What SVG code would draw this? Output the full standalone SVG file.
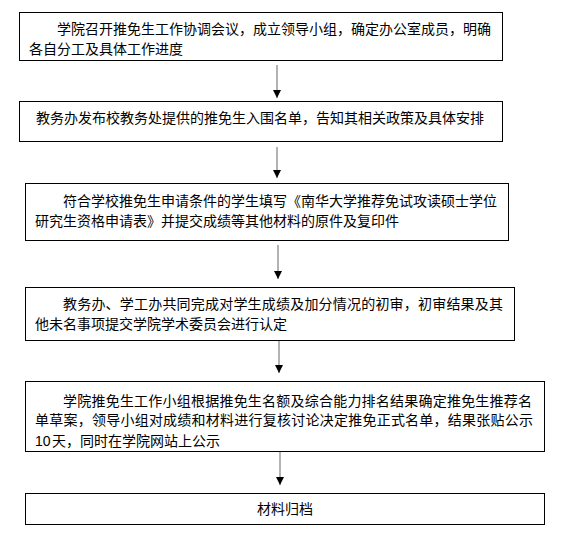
<svg xmlns="http://www.w3.org/2000/svg" width="564" height="546" viewBox="0 0 564 546">
<style>
.box{fill:#fff;stroke:#000;stroke-width:1}
.t{font-family:"Noto Sans CJK SC","Liberation Sans",sans-serif;font-size:14px;fill:#000}
.n{font-family:"Liberation Sans",sans-serif;font-size:14px;fill:#000}
.c{stroke:#808080;stroke-width:1.2;fill:none;marker-end:url(#ah)}
</style>
<defs>
<marker id="ah" markerUnits="userSpaceOnUse" markerWidth="8" markerHeight="8" refX="8" refY="4" orient="auto" viewBox="0 0 8 8">
<path d="M0,0 L8,4 L0,8 Z" fill="#000"/>
</marker>
</defs>
<rect width="564" height="546" fill="#fff"/>
<g id="n1">
<rect class="box" x="19.5" y="12.5" width="483" height="48"/>
<text class="t" x="57" y="33.5" textLength="434" lengthAdjust="spacing">学院召开推免生工作协调会议，成立领导小组，确定办公室成员，明确</text>
<text class="t" x="29" y="53.5">各自分工及具体工作进度</text>
</g>
<g id="n2">
<rect class="box" x="19.5" y="101.5" width="483" height="40"/>
<text class="t" x="36" y="122.5" textLength="448" lengthAdjust="spacing">教务办发布校教务处提供的推免生入围名单，告知其相关政策及具体安排</text>
</g>
<g id="n3">
<rect class="box" x="25.5" y="183.5" width="483" height="57"/>
<text class="t" x="63" y="205.5" textLength="434" lengthAdjust="spacing">符合学校推免生申请条件的学生填写《南华大学推荐免试攻读硕士学位</text>
<text class="t" x="35" y="225.5">研究生资格申请表》并提交成绩等其他材料的原件及复印件</text>
</g>
<g id="n4">
<rect class="box" x="25.5" y="287.5" width="489" height="53"/>
<text class="t" x="63" y="309" textLength="440" lengthAdjust="spacing">教务办、学工办共同完成对学生成绩及加分情况的初审，初审结果及其</text>
<text class="t" x="35" y="329">他未名事项提交学院学术委员会进行认定</text>
</g>
<g id="n5">
<rect class="box" x="25.5" y="381.5" width="519" height="70"/>
<text class="t" x="63" y="405.5" textLength="469" lengthAdjust="spacing">学院推免生工作小组根据推免生名额及综合能力排名结果确定推免生推荐名</text>
<text class="t" x="35" y="425" textLength="498" lengthAdjust="spacing">单草案，领导小组对成绩和材料进行复核讨论决定推免正式名单，结果张贴公示</text>
<text class="n" x="35" y="445.5">10</text>
<text class="t" x="52" y="445.5">天，同时在学院网站上公示</text>
</g>
<g id="n6">
<rect class="box" x="25.5" y="493.5" width="519" height="31"/>
<text class="t" x="285" y="514" text-anchor="middle">材料归档</text>
</g>
<g id="connectors">
<line class="c" x1="277" y1="65" x2="277" y2="98"/>
<line class="c" x1="277" y1="147" x2="277" y2="178"/>
<line class="c" x1="278" y1="245" x2="278" y2="279"/>
<line class="c" x1="279" y1="341" x2="279" y2="373"/>
<line class="c" x1="280" y1="452" x2="280" y2="485"/>
</g>
</svg>
